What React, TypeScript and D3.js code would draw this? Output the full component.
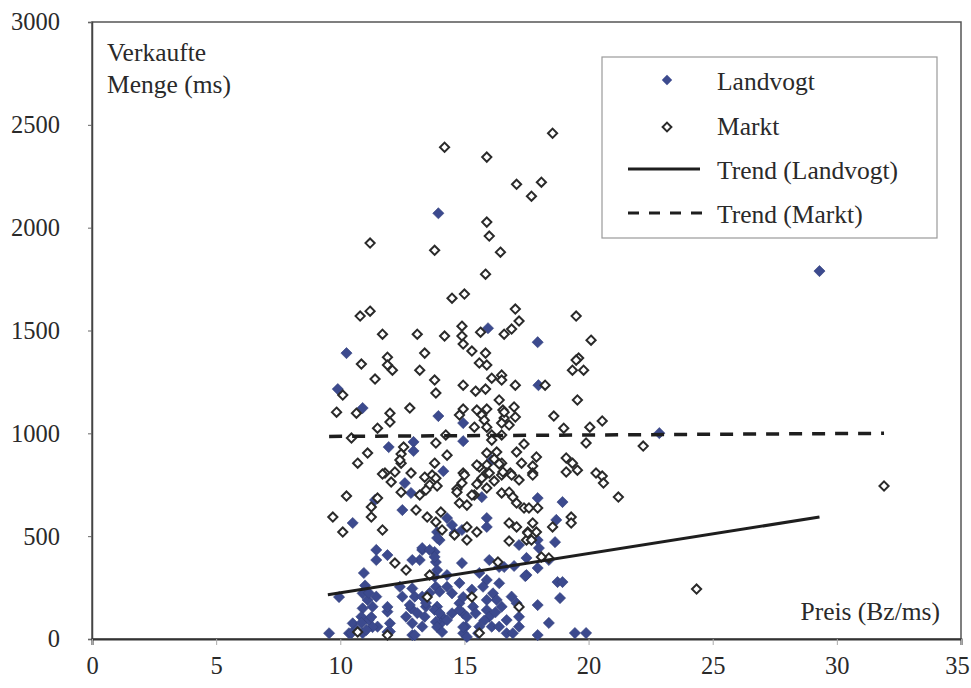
import React, { useEffect, useRef } from 'react';
import * as d3 from 'd3';

// values: [Preis (Bz/ms), Verkaufte Menge (ms)]
const landvogtPoints: [number, number][] = [
  [13.95, 2070], [17.95, 1443], [15.95, 1511], [10.25, 1390], [17.98, 1234], [9.9, 1215],
  [10.9, 1123], [13.95, 1084], [14.95, 1050], [14.95, 962], [11.95, 933], [12.95, 958],
  [12.95, 914], [14.15, 816], [16.1, 870], [12.6, 758], [12.85, 710], [15.7, 690],
  [11.4, 676], [12.5, 627], [10.5, 564], [17.95, 685], [18.95, 666], [18.7, 579],
  [15.9, 588], [15.9, 545], [18.65, 471], [17.95, 481], [18.0, 442], [17.2, 457],
  [14.3, 588], [14.5, 554], [14.6, 515], [14.0, 481], [13.9, 520], [14.9, 530], [13.9, 491],
  [11.45, 433], [11.45, 384], [11.9, 408], [13.3, 433], [13.8, 423], [13.85, 374],
  [13.2, 384], [12.9, 384], [10.95, 321], [13.9, 335], [14.3, 311], [14.9, 369],
  [15.6, 321], [16.0, 384], [16.4, 350], [15.9, 287], [13.3, 442], [13.6, 433], [13.8, 399],
  [17.95, 345], [17.5, 311], [17.0, 355], [16.6, 350], [17.5, 394], [18.4, 384],
  [17.45, 306], [18.75, 277], [18.95, 277], [18.85, 199], [18.4, 78], [17.95, 165],
  [17.95, 19], [19.45, 29], [19.9, 29],
  [9.95, 204], [10.9, 222], [11.1, 190], [11.3, 157], [10.9, 149], [11.45, 206],
  [10.85, 108], [11.15, 92], [10.5, 76], [10.65, 44], [10.35, 28], [10.9, 28],
  [11.5, 60], [12.0, 76], [11.9, 133], [12.0, 36], [12.5, 206], [12.4, 254],
  [13.0, 206], [12.9, 246], [12.85, 149], [12.65, 108], [12.9, 76], [12.9, 19],
  [13.3, 206], [13.45, 157], [13.4, 108], [13.3, 60], [13.85, 254], [13.8, 303],
  [14.0, 230], [13.9, 157], [14.1, 108], [14.05, 76], [14.3, 254], [14.5, 222],
  [14.5, 125], [14.8, 174], [14.95, 125], [15.05, 60], [14.95, 28], [15.35, 157],
  [15.45, 125], [15.6, 60], [15.55, 28], [15.75, 254], [15.9, 190], [15.9, 141],
  [16.0, 108], [16.1, 60], [16.15, 222], [16.4, 271], [16.5, 157], [16.7, 92],
  [16.4, 60], [16.9, 206], [17.1, 174], [17.2, 108], [16.7, 28], [16.95, 28],
  [17.2, 60], [9.55, 28], [11.15, 224], [10.85, 78], [11.25, 107], [11.3, 58],
  [10.45, 29], [11.05, 44], [11.9, 156], [11.9, 34], [12.8, 165], [13.1, 126],
  [13.0, 19], [13.6, 224], [13.45, 175], [13.8, 141], [14.0, 126], [13.85, 83],
  [14.3, 92], [13.9, 58], [14.1, 34], [14.8, 272], [14.95, 204], [14.8, 141],
  [15.1, 107], [14.95, 58], [15.1, 10], [11.0, 260], [15.3, 240], [16.3, 190],
  [15.8, 90], [16.25, 130],
  [29.3, 1789], [22.85, 1001],
];

const marktPoints: [number, number][] = [
  [18.55, 2459], [14.2, 2391], [15.9, 2343], [17.1, 2211], [18.1, 2221], [17.7, 2153],
  [15.9, 2027], [16.0, 1959], [11.2, 1925], [13.8, 1890], [16.45, 1881], [15.85, 1774],
  [14.5, 1657], [15.0, 1677], [10.8, 1570], [11.2, 1594], [17.05, 1604], [19.5, 1570],
  [11.7, 1482], [13.1, 1482], [14.2, 1473], [14.9, 1521], [14.9, 1473], [14.95, 1434],
  [15.65, 1492], [16.6, 1482], [16.9, 1507], [17.2, 1546], [20.1, 1453], [11.9, 1370],
  [13.4, 1390], [15.3, 1400], [15.85, 1390], [19.6, 1366],
  [10.85, 1337], [11.9, 1332], [12.1, 1307], [13.2, 1307], [11.4, 1264], [13.8, 1259],
  [14.95, 1234], [15.45, 1205], [15.85, 1215], [16.1, 1268], [16.5, 1283], [16.5, 1259],
  [17.05, 1234], [18.25, 1234], [19.5, 1356], [19.35, 1307], [19.8, 1307], [15.6, 1342],
  [15.9, 1332],
  [10.1, 1186], [9.85, 1103], [10.65, 1098], [12.8, 1123], [12.0, 1098], [12.0, 1055],
  [11.5, 1025], [13.85, 1196], [14.95, 1118], [14.8, 1089], [15.5, 1113], [15.9, 1118],
  [15.7, 1089], [15.8, 1064], [16.55, 1113], [17.0, 1128], [16.6, 1074], [17.05, 1079],
  [16.8, 1040], [16.5, 1050], [15.4, 1030], [15.9, 1030], [18.6, 1084], [19.0, 1025],
  [20.05, 1030], [19.9, 953], [20.55, 1060], [16.4, 1162], [16.6, 1103], [19.55, 1162],
  [10.45, 977], [12.55, 933], [12.45, 899], [14.25, 992], [13.85, 953], [11.1, 904],
  [10.7, 855], [11.8, 807], [12.2, 812], [12.45, 855], [14.3, 894], [13.8, 855],
  [14.95, 807], [16.1, 992], [16.5, 992], [16.1, 967], [15.9, 904], [16.3, 909],
  [16.2, 875], [16.5, 855], [15.9, 846], [15.6, 836], [15.9, 807], [16.85, 807],
  [17.1, 909], [17.4, 948], [17.3, 855], [17.9, 885], [17.75, 841], [17.75, 807],
  [19.1, 880], [19.35, 855], [19.1, 812], [19.55, 821], [20.3, 807], [20.55, 792],
  [15.5, 846], [16.4, 851], [11.7, 802], [12.05, 763], [12.85, 807], [13.4, 787],
  [13.7, 797], [13.85, 782], [13.6, 749], [13.9, 744], [13.45, 724], [12.45, 714],
  [13.2, 700], [15.0, 797], [14.9, 758], [14.7, 729], [15.5, 753], [15.7, 782],
  [16.0, 807], [16.2, 768], [15.9, 734], [15.4, 700], [16.5, 710], [16.8, 714],
  [16.95, 690], [16.5, 797], [16.9, 797], [17.2, 773], [17.1, 661], [17.4, 637],
  [17.6, 637], [17.95, 637], [19.3, 593], [19.3, 564], [18.55, 545], [17.75, 564],
  [17.9, 520], [17.55, 520], [17.1, 545], [16.8, 564], [17.5, 481], [16.8, 476],
  [18.4, 394], [18.1, 399], [16.35, 374], [17.2, 156], [15.3, 204], [13.5, 204],
  [12.65, 335], [13.6, 311], [11.7, 530], [12.2, 369], [11.5, 685], [11.25, 642],
  [9.7, 593], [10.1, 520], [10.25, 695], [13.05, 627], [14.05, 617], [13.5, 593],
  [13.85, 569], [14.1, 530], [14.6, 506], [15.1, 545], [15.5, 520], [15.1, 481],
  [14.7, 714], [14.8, 661], [15.1, 651], [15.3, 700], [10.7, 34], [11.9, 19],
  [15.6, 29], [17.75, 797], [20.6, 758], [17.55, 515], [17.7, 481], [11.25, 593],
  [12.4, 870], [16.55, 812],
  [22.2, 938], [21.2, 690], [31.9, 744], [24.35, 243],
];

// trend lines, end points
const trendLandvogt: [number, number][] = [[9.5, 215], [29.3, 593]];
const trendMarkt: [number, number][] = [[9.55, 985], [31.9, 1000]];

const xTicks = [0, 5, 10, 15, 20, 25, 30, 35];
const yTicks = [0, 500, 1000, 1500, 2000, 2500, 3000];

const FONT = 'Liberation Serif, DejaVu Serif, serif';
const BLUE = '#3c4a8e';
const INK = '#2a2a2a';

const App = () => {
  const ref = useRef<SVGSVGElement>(null);

  useEffect(() => {
    const width = 971;
    const height = 688;
    const margin = { top: 22, right: 10, bottom: 49, left: 92 };

    const svg = d3.select(ref.current);
    svg.selectAll('*').remove();
    svg.attr('width', width).attr('height', height);

    const x = d3.scaleLinear().domain([0, 35]).range([margin.left, width - margin.right]);
    const y = d3.scaleLinear().domain([0, 3000]).range([height - margin.bottom, margin.top]);

    svg.append('rect').attr('width', width).attr('height', height).attr('fill', '#fff');

    // plot frame
    svg.append('rect')
      .attr('x', x(0))
      .attr('y', y(3000))
      .attr('width', x(35) - x(0))
      .attr('height', y(0) - y(3000))
      .attr('fill', 'none')
      .attr('stroke', '#555')
      .attr('stroke-width', 1.5);

    // y axis
    const yAxis = svg.append('g')
      .attr('transform', `translate(${x(0)}, 0)`)
      .call(d3.axisLeft(y).tickValues(yTicks).tickSize(4).tickPadding(28).tickFormat(d3.format('d')));
    yAxis.attr('font-family', FONT).attr('font-size', 24.5);
    yAxis.select('.domain').attr('stroke', '#444').attr('stroke-width', 1.5);
    yAxis.selectAll('.tick line').attr('stroke', '#666');
    yAxis.selectAll('text').attr('fill', INK);

    // x axis
    const xAxis = svg.append('g')
      .attr('transform', `translate(0, ${y(0)})`)
      .call(d3.axisBottom(x).tickValues(xTicks).tickSize(6).tickPadding(12));
    xAxis.attr('font-family', FONT).attr('font-size', 24.5);
    xAxis.select('.domain').attr('stroke', '#333').attr('stroke-width', 2);
    xAxis.selectAll('.tick line').attr('stroke', '#aaa');
    xAxis.selectAll('text').attr('fill', INK);
    // the last label sits a little left of its tick, as in the original
    xAxis.selectAll<SVGTextElement, number>('text')
      .attr('dx', d => (d === 35 ? -4 : 0));

    const diamond = (r: number) => d3.symbol(d3.symbolDiamond2, (r / 0.62625) ** 2)();

    // Landvogt (filled)
    svg.append('g')
      .selectAll('path')
      .data(landvogtPoints)
      .enter()
      .append('path')
      .attr('d', diamond(5.6))
      .attr('transform', d => `translate(${x(d[0])}, ${y(d[1])})`)
      .attr('fill', BLUE)
      .attr('stroke', '#33407c')
      .attr('stroke-width', 0.6);

    // Markt (hollow)
    svg.append('g')
      .selectAll('path')
      .data(marktPoints)
      .enter()
      .append('path')
      .attr('d', diamond(4.6))
      .attr('transform', d => `translate(${x(d[0])}, ${y(d[1])})`)
      .attr('fill', '#fff')
      .attr('stroke', INK)
      .attr('stroke-width', 2);

    const line = d3.line<[number, number]>().x(d => x(d[0])).y(d => y(d[1]));

    svg.append('path')
      .datum(trendLandvogt)
      .attr('d', line)
      .attr('fill', 'none')
      .attr('stroke', '#1e1e1e')
      .attr('stroke-width', 3);

    svg.append('path')
      .datum(trendMarkt)
      .attr('d', line)
      .attr('fill', 'none')
      .attr('stroke', '#1e1e1e')
      .attr('stroke-width', 3.5)
      .attr('stroke-dasharray', '13 10');

    // axis titles inside the plot
    const title = svg.append('text')
      .attr('font-family', FONT)
      .attr('font-size', 25.5)
      .attr('fill', INK);
    title.append('tspan').attr('x', 107).attr('y', 61).text('Verkaufte');
    title.append('tspan').attr('x', 107).attr('y', 93).text('Menge (ms)');

    svg.append('text')
      .attr('x', 940)
      .attr('y', 620)
      .attr('text-anchor', 'end')
      .attr('font-family', FONT)
      .attr('font-size', 25.5)
      .attr('fill', INK)
      .text('Preis (Bz/ms)');

    // Legend
    const legend = svg.append('g');
    legend.append('rect')
      .attr('x', 602)
      .attr('y', 57)
      .attr('width', 335)
      .attr('height', 181)
      .attr('fill', '#fff')
      .attr('stroke', '#9a9a9a')
      .attr('stroke-width', 1.2);

    const items = [
      { label: 'Landvogt', y: 80 },
      { label: 'Markt', y: 125 },
      { label: 'Trend (Landvogt)', y: 169 },
      { label: 'Trend (Markt)', y: 213 },
    ];

    legend.append('path')
      .attr('d', diamond(5.2))
      .attr('transform', `translate(667, ${items[0].y})`)
      .attr('fill', BLUE);
    legend.append('path')
      .attr('d', diamond(4.4))
      .attr('transform', `translate(667, ${items[1].y + 2})`)
      .attr('fill', '#fff')
      .attr('stroke', INK)
      .attr('stroke-width', 2);
    legend.append('line')
      .attr('x1', 628).attr('x2', 700)
      .attr('y1', items[2].y).attr('y2', items[2].y)
      .attr('stroke', '#1e1e1e')
      .attr('stroke-width', 3);
    legend.append('line')
      .attr('x1', 628).attr('x2', 708)
      .attr('y1', items[3].y).attr('y2', items[3].y)
      .attr('stroke', '#1e1e1e')
      .attr('stroke-width', 3)
      .attr('stroke-dasharray', '11 10');

    legend.selectAll('text.lbl')
      .data(items)
      .enter()
      .append('text')
      .attr('class', 'lbl')
      .attr('x', 717)
      .attr('y', d => d.y + 10)
      .attr('font-family', FONT)
      .attr('font-size', 25.5)
      .attr('fill', INK)
      .text(d => d.label);
  }, []);

  return (
    <div style={{ position: 'absolute', left: 0, top: 0, width: 971, height: 688 }}>
      <svg ref={ref} style={{ display: 'block' }}></svg>
    </div>
  );
};

export default App;
